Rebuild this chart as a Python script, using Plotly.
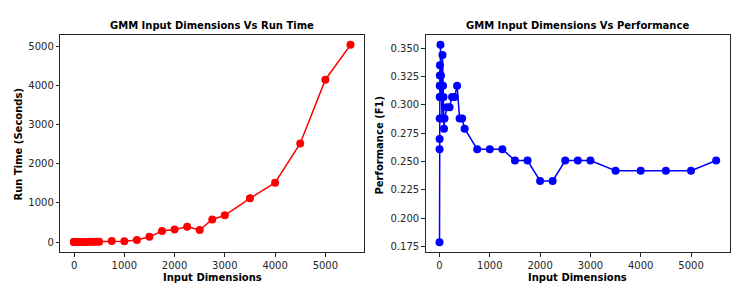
import plotly.graph_objects as go

# Data
input_dims = [1, 2, 3, 4, 5, 6, 7, 8, 9, 10, 20, 30, 40, 50, 60, 70, 80, 90, 100,
              150, 200, 250, 300, 350, 400, 450, 500, 750, 1000, 1250, 1500, 1750,
              2000, 2250, 2500, 2750, 3000, 3500, 4000, 4500, 5000, 5500]
run_time = [0.5, 0.6, 0.7, 0.8, 0.9, 1.0, 1.1, 1.2, 1.3, 1.4, 1.6, 1.8, 2.0, 2.2, 2.4,
            2.6, 2.8, 3.0, 3.2, 4, 5, 6, 7, 8, 9, 10, 11, 28, 25, 55, 135, 285,
            325, 395, 310, 580, 685, 1120, 1520, 2520, 4150, 5040]
f1_score = [0.179, 0.261, 0.270, 0.288, 0.307, 0.317, 0.326, 0.335, 0.317, 0.307,
            0.353, 0.326, 0.307, 0.288, 0.344, 0.317, 0.307, 0.279, 0.288,
            0.298, 0.298, 0.307, 0.307, 0.317, 0.288, 0.288, 0.279, 0.261, 0.261,
            0.261, 0.251, 0.251, 0.233, 0.233, 0.251, 0.251, 0.251, 0.242, 0.242,
            0.242, 0.242, 0.251]

titles = ["GMM Input Dimensions Vs Run Time", "GMM Input Dimensions Vs Performance"]
x_title = "Input Dimensions"
y_titles = ["Run Time (Seconds)", "Performance (F1)"]

W, H = 749, 288
FONT = "DejaVu Sans"

fig = go.Figure()
fig.add_trace(go.Scatter(x=input_dims, y=run_time, mode="lines+markers",
                         line=dict(color="#ff0000", width=1.5),
                         marker=dict(color="#ff0000", size=8),
                         xaxis="x", yaxis="y", showlegend=False))
fig.add_trace(go.Scatter(x=input_dims, y=f1_score, mode="lines+markers",
                         line=dict(color="#0000ff", width=1.5),
                         marker=dict(color="#0000ff", size=8),
                         xaxis="x2", yaxis="y2", showlegend=False))

def px_x(p):
    return p / W

def px_y(p):
    return 1 - p / H

axis_common = dict(showline=True, linecolor="#262626", linewidth=1, mirror=True,
                   ticks="outside", ticklen=3.5, tickwidth=0.8, tickcolor="#262626",
                   showgrid=False, zeroline=False, automargin=False,
                   tickfont=dict(family=FONT, size=10, color="#262626"))

xr = [-274, 5775]
xt = [0, 1000, 2000, 3000, 4000, 5000]
fig.update_layout(
    width=W, height=H, margin=dict(l=0, r=0, t=0, b=0),
    paper_bgcolor="white", plot_bgcolor="white",
    font=dict(family=FONT, color="black"),
    xaxis=dict(domain=[px_x(60.3), px_x(364.3)], range=xr, tickvals=xt, anchor="y", **axis_common),
    yaxis=dict(domain=[px_y(252), px_y(35)], range=[-252, 5292], tickvals=xt, anchor="x", **axis_common),
    xaxis2=dict(domain=[px_x(425.7), px_x(730)], range=xr, tickvals=xt, anchor="y2", **axis_common),
    yaxis2=dict(domain=[px_y(252), px_y(35)], range=[0.1703, 0.3617],
                tickvals=[0.175, 0.2, 0.225, 0.25, 0.275, 0.3, 0.325, 0.35],
                ticktext=["0.175", "0.200", "0.225", "0.250", "0.275", "0.300", "0.325", "0.350"],
                anchor="x2", **axis_common),
)

def label(text, x, y, angle=0, size=10):
    fig.add_annotation(text="<b>" + text + "</b>", x=px_x(x), y=px_y(y), xref="paper", yref="paper",
                       showarrow=False, textangle=angle, xanchor="center", yanchor="middle",
                       font=dict(family=FONT, size=size, color="black"))

label(titles[0], 212.3, 25)
label(titles[1], 577.8, 25)
label(x_title, 212.3, 277)
label(x_title, 577.8, 277)
label(y_titles[0], 17.5, 144, angle=-90)
label(y_titles[1], 378.5, 145, angle=-90)

fig.write_html("out.html", config={"displayModeBar": False},
               post_script="document.body.style.margin='0';document.body.style.overflow='hidden';")
